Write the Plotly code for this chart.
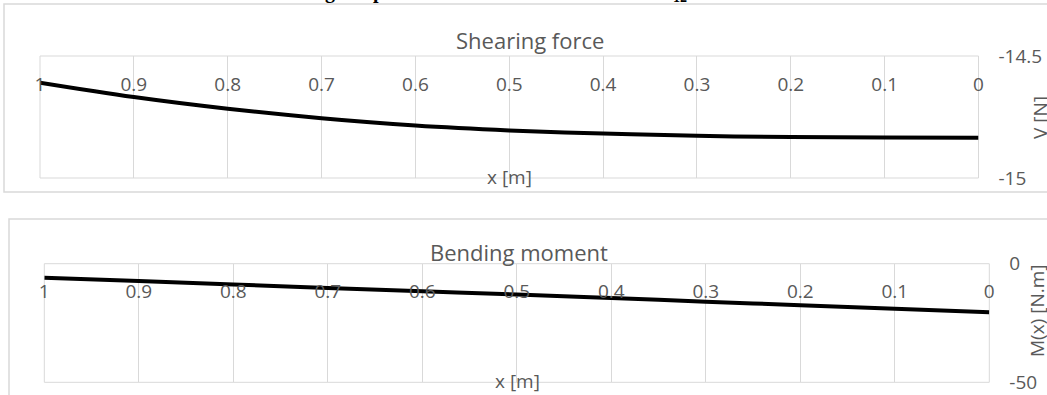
import plotly.graph_objects as go

# ---- data ----
x_m = [1.0, 0.9, 0.8, 0.7, 0.6, 0.5, 0.4, 0.3, 0.2, 0.1, 0.0]
shear_V = [-14.609, -14.668, -14.716, -14.755, -14.785, -14.805,
           -14.818, -14.827, -14.832, -14.834, -14.835]
moment_M = [-5.9, -7.3, -8.8, -10.2, -11.6, -13.0, -14.5, -16.0, -17.5, -19.0, -20.5]
x_ticks = [1, 0.9, 0.8, 0.7, 0.6, 0.5, 0.4, 0.3, 0.2, 0.1, 0]
x_ticklabels = ["1", "0.9", "0.8", "0.7", "0.6", "0.5", "0.4", "0.3", "0.2", "0.1", "0"]
v_ticks = [-15, -14.5]
v_ticklabels = ["-15", "-14.5"]
m_ticks = [-50, 0]
m_ticklabels = ["-50", "0"]
v_range = [-15, -14.5]
m_range = [-50, 0]

W, H = 1047, 395
def px(x):
    return x / W
def py(y):
    return 1 - y / H

FONT = "Open Sans"
GRAY = "#595959"
GRID = "#d9d9d9"
TICK = 19
TITLE = 22

fig = go.Figure()
fig.add_trace(go.Scatter(x=x_m, y=shear_V, mode="lines", line=dict(color="black", width=4, shape="spline"),
                         xaxis="x", yaxis="y", showlegend=False, hoverinfo="skip"))
fig.add_trace(go.Scatter(x=x_m, y=moment_M, mode="lines", line=dict(color="black", width=4, shape="spline"),
                         xaxis="x2", yaxis="y2", showlegend=False, hoverinfo="skip"))

xaxis_common = dict(range=[1, 0], tickvals=x_ticks, ticktext=x_ticklabels, showgrid=True, gridcolor=GRID,
                    gridwidth=1, zeroline=False, showline=False, ticks="", automargin=False,
                    tickfont=dict(family=FONT, size=TICK, color=GRAY), anchor="free")
yaxis_common = dict(showgrid=True, gridcolor=GRID, gridwidth=1, zeroline=False, showline=False, ticks="",
                    automargin=False, side="right", tickfont=dict(family=FONT, size=TICK, color=GRAY),
                    ticklabelstandoff=19)

fig.update_layout(
    width=W, height=H, margin=dict(l=0, r=0, t=0, b=0, autoexpand=False),
    paper_bgcolor="white", plot_bgcolor="white",
    xaxis=dict(domain=[px(40), px(978.5)], position=py(71), **xaxis_common),
    yaxis=dict(domain=[py(178), py(56)], range=v_range, tickvals=v_ticks, ticktext=v_ticklabels,
               anchor="x", **yaxis_common),
    xaxis2=dict(domain=[px(44.3), px(989.3)], position=py(278), **xaxis_common),
    yaxis2=dict(domain=[py(382.3), py(263.7)], range=m_range, tickvals=m_ticks, ticktext=m_ticklabels,
                anchor="x2", **yaxis_common),
)

shapes = [
    dict(type="rect", xref="paper", yref="paper", x0=px(4), x1=px(1060), y0=py(192), y1=py(4),
         line=dict(color=GRID, width=1.5), layer="below"),
    dict(type="rect", xref="paper", yref="paper", x0=px(9), x1=px(1060), y0=py(420), y1=py(219),
         line=dict(color=GRID, width=1.5), layer="below"),
    dict(type="rect", xref="x domain", yref="y domain", x0=0, x1=1, y0=0, y1=1,
         line=dict(color=GRID, width=1), layer="below"),
    dict(type="rect", xref="x2 domain", yref="y2 domain", x0=0, x1=1, y0=0, y1=1,
         line=dict(color=GRID, width=1), layer="below"),
]
fig.update_layout(shapes=shapes)

def ann(text, x, y, size, angle=0, color=GRAY, family=FONT, yanchor="middle", bold=False):
    fig.add_annotation(text=("<b>%s</b>" % text) if bold else text, xref="paper", yref="paper",
                       x=px(x), y=py(y), showarrow=False, textangle=angle,
                       font=dict(family=family, size=size, color=color),
                       xanchor="center", yanchor=yanchor)

ann("Shearing force", 530, 40, TITLE)
ann("Bending moment", 519, 252, TITLE)
ann("x [m]", 509, 177, TICK)
ann("x [m]", 517, 381, TICK)
ann("V [N]", 1040, 118, TICK, angle=-90)
ann("M(x) [N.m]", 1037, 311, TICK, angle=-90)

# clipped document text above the chart (only descenders visible)
ann("g", 330, 5, 20, color="black", family="Liberation Serif", yanchor="bottom", bold=True)
ann("p", 378, 5, 20, color="black", family="Liberation Serif", yanchor="bottom", bold=True)
ann("12", 680, 7, 14, color="black", family="Liberation Serif", yanchor="bottom", bold=True)

fig.write_html("out.html", config={"displayModeBar": False},
               post_script="document.body.style.margin='0px';document.body.style.overflow='hidden';")
